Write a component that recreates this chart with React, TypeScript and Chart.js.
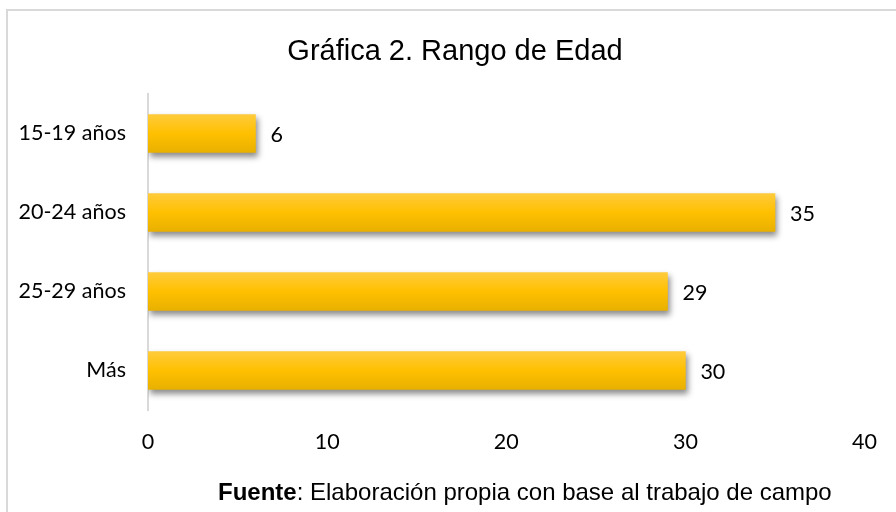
import React, { useEffect, useRef } from "react";
import { Chart, registerables } from "chart.js";

Chart.register(...registerables);

const categories = ["15-19 años", "20-24 años", "25-29 años", "Más"];
const values = [6, 35, 29, 30];
const xTicks = [0, 10, 20, 30, 40];
const titleText = "Gráfica 2. Rango de Edad";
const footerBold = "Fuente";
const footerRest = ": Elaboración propia con base al trabajo de campo";

const LABEL_FONT = "Lato, 'Open Sans', sans-serif";
const ARIAL = "'Liberation Sans', Arial, sans-serif";

const decorPlugin = {
  id: "decor",
  beforeDraw(chart: any) {
    const ctx = chart.ctx;
    ctx.save();
    ctx.fillStyle = "#ffffff";
    ctx.fillRect(0, 0, chart.width, chart.height);
    ctx.strokeStyle = "#d9d9d9";
    ctx.lineWidth = 2;
    ctx.strokeRect(7, 10, chart.width + 20, chart.height + 20);
    ctx.restore();
  },
  beforeDatasetsDraw(chart: any) {
    const ctx = chart.ctx;
    ctx.save();
    ctx.shadowColor = "rgba(0,0,0,0.45)";
    ctx.shadowBlur = 6;
    ctx.shadowOffsetX = 2;
    ctx.shadowOffsetY = 4;
  },
  afterDatasetsDraw(chart: any) {
    const ctx = chart.ctx;
    ctx.restore();
    const meta = chart.getDatasetMeta(0);
    ctx.save();
    ctx.fillStyle = "#000000";
    ctx.font = `21.5px ${LABEL_FONT}`;
    ctx.textAlign = "left";
    ctx.textBaseline = "middle";
    meta.data.forEach((el: any, i: number) => {
      ctx.fillText(String(values[i]), el.x + 15, el.y + 2);
    });
    ctx.restore();
  },
  afterDraw(chart: any) {
    const ctx = chart.ctx;
    ctx.save();
    ctx.fillStyle = "#000000";
    ctx.textBaseline = "alphabetic";
    ctx.textAlign = "center";
    ctx.font = `29px ${ARIAL}`;
    ctx.fillText(titleText, 455, 59.5);
    ctx.textAlign = "left";
    let x = 218;
    const y = 500;
    ctx.font = `bold 24px ${ARIAL}`;
    ctx.fillText(footerBold, x, y);
    x += ctx.measureText(footerBold).width;
    ctx.font = `24px ${ARIAL}`;
    ctx.fillText(footerRest, x, y);
    ctx.restore();
  },
};

export default function App() {
  const ref = useRef<HTMLCanvasElement>(null);
  useEffect(() => {
    if (!ref.current) return;
    const chart = new Chart(ref.current, {
      type: "bar",
      data: {
        labels: categories,
        datasets: [
          {
            data: values,
            barThickness: 38,
            backgroundColor: (c: any) => {
              const ch = c.chart;
              const ys = ch.scales && ch.scales.y;
              if (!ch.chartArea || !ys || c.dataIndex === undefined) return "#FFC000";
              const yc = ys.getPixelForValue(c.dataIndex);
              const g = ch.ctx.createLinearGradient(0, yc - 19, 0, yc + 19);
              g.addColorStop(0, "#FFCB3C");
              g.addColorStop(0.5, "#FFC000");
              g.addColorStop(1, "#E8B000");
              return g;
            },
            borderWidth: 0,
          },
        ],
      },
      options: {
        indexAxis: "y",
        animation: false,
        responsive: false,
        maintainAspectRatio: false,
        layout: { padding: { left: 14, right: 30, top: 94, bottom: 50 } },
        plugins: {
          legend: { display: false },
          tooltip: { enabled: false },
          title: { display: false },
        },
        scales: {
          x: {
            min: 0,
            max: 40,
            afterBuildTicks: (s: any) => {
              s.ticks = xTicks.map((v) => ({ value: v }));
            },
            grid: { display: false, drawTicks: false },
            border: { display: false },
            ticks: {
              color: "#000000",
              font: { family: LABEL_FONT, size: 21.5 },
              padding: 19,
            },
            afterFit: (s: any) => {
              s.height = 52;
            },
          },
          y: {
            grid: { display: false, drawTicks: false },
            border: { display: true, color: "#d9d9d9", width: 2 },
            ticks: {
              color: "#000000",
              font: { family: LABEL_FONT, size: 21.5 },
              padding: 22,
            },
            afterFit: (s: any) => {
              s.width = 134;
            },
          },
        },
      },
      plugins: [decorPlugin],
    });
    return () => chart.destroy();
  }, []);
  return (
    <div style={{ position: "absolute", left: 0, top: 0, width: 896, height: 512 }}>
      <canvas ref={ref} width={896} height={512} style={{ display: "block" }} />
    </div>
  );
}
